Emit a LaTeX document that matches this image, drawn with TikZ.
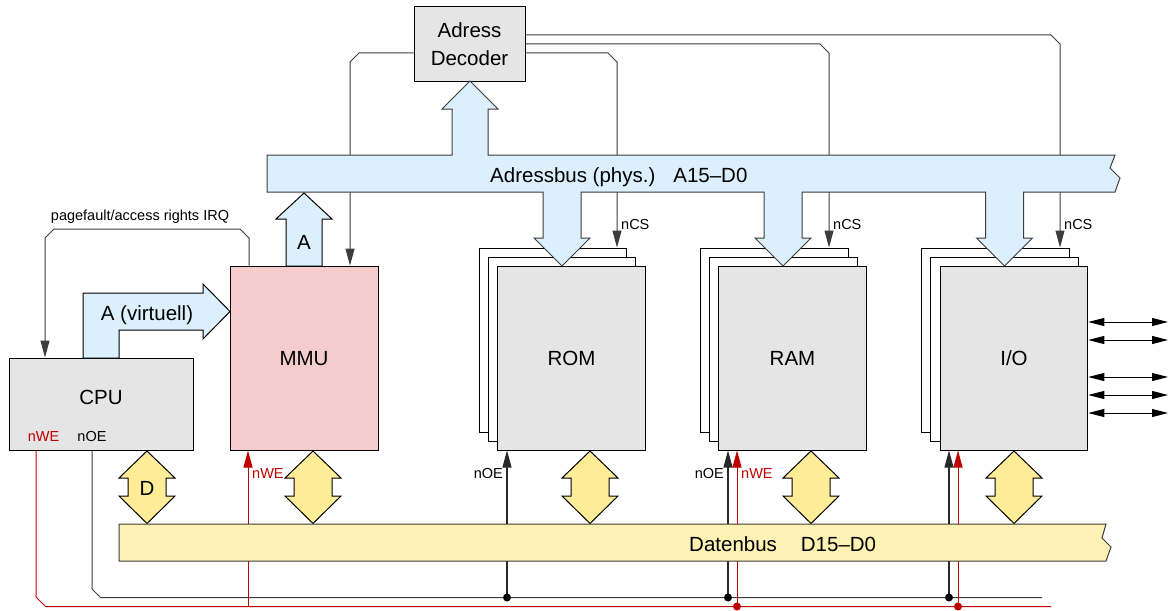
\documentclass[tikz,border=0pt]{standalone}
\usepackage{fontspec}
\setmainfont{Liberation Sans}
\usetikzlibrary{arrows.meta}
\definecolor{busblue}{RGB}{219,239,252}
\definecolor{busyellow}{RGB}{253,242,180}
\definecolor{arryellow}{RGB}{254,236,150}
\definecolor{boxgray}{RGB}{229,229,229}
\definecolor{mmupink}{RGB}{244,204,204}
\definecolor{sigred}{RGB}{192,0,0}
\definecolor{lineg}{RGB}{60,60,60}
\definecolor{oegray}{RGB}{40,40,40}
\tikzset{
  box/.style={draw=black, line width=1pt, fill=boxgray, inner sep=0pt, minimum width=147.5pt, minimum height=184pt},
  backbox/.style={box, fill=white},
  big/.style={font=\fontsize{20.5}{27}\selectfont, inner sep=0pt, text height=14.8pt, text depth=0pt},
  small/.style={font=\fontsize{14.5}{17}\selectfont, inner sep=0pt, text height=10.5pt, text depth=0pt},
  wire/.style={draw=lineg, line width=1pt},
  oewire/.style={draw=oegray, line width=1.05pt},
  redwire/.style={draw=sigred, line width=1pt},
  endarrow/.style={-{Triangle[length=17pt,width=9pt]}},
  botharrow/.style={{Triangle[length=16pt,width=8pt]}-{Triangle[length=16pt,width=8pt]}},
  blockarrow/.style={draw=black, line width=1pt, fill=busblue, line join=miter},
  busshape/.style={draw=lineg, line width=1pt, line join=miter},
  dblarrow/.pic={\filldraw[fill=arryellow, draw=black, line width=1pt, line join=miter]
     (0,0) -- (28,27) -- (19,27) -- (19,45) -- (28,45) -- (0,72.5) -- (-28,45) -- (-19,45) -- (-19,27) -- (-28,27) -- cycle;}
}
\begin{document}
\begin{tikzpicture}[x=1pt,y=-1pt]
\useasboundingbox (0,0) rectangle (1169,610);

% memory / IO stacks
\node[backbox] (rom1) at (553,340) {};
\node[backbox] (rom2) at (562,349) {};
\node[box,big] (rom) at (571.5,358) {ROM};
\node[backbox] (ram1) at (774.5,340) {};
\node[backbox] (ram2) at (783.5,349) {};
\node[box,big] (ram) at (792.5,358) {RAM};
\node[backbox] (io1) at (995.5,340) {};
\node[backbox] (io2) at (1004.5,349) {};
\node[box,big] (io) at (1014,358) {I/O};

% CPU, MMU, decoder
\node[box, minimum width=184pt, minimum height=92pt] (cpu) at (101,404) {};
\node[big] (cputext) at (101,397) {CPU};
\node[box, fill=mmupink, big, minimum width=148pt] (mmu) at (304,358) {MMU};
\node[box, minimum width=111pt, minimum height=74pt, font=\fontsize{20.5}{28}\selectfont, align=center] (dec) at (469.5,44) {Adress\\Decoder};

% chip-select lines from the decoder
\draw[wire,endarrow] (dec.west |- 0,53) -- (359,53) -- (350,62) -- (350,0 |- mmu.north);
\draw[wire,endarrow] (dec.east |- 0,53) -- (608,53) -- (617,62) -- (617,0 |- rom1.north);
\draw[wire,endarrow] (dec.east |- 0,44) -- (820,44) -- (829,53) -- (829,0 |- ram1.north);
\draw[wire,endarrow] (dec.east |- 0,35) -- (1051,35) -- (1060,44) -- (1060,0 |- io1.north);

% pagefault IRQ
\draw[wire,endarrow] (249,0 |- mmu.north) -- (249,238) -- (240,229) -- (54,229) -- (45,238) -- (45,0 |- cpu.north);

% control signals
\coordinate (oeend) at (1042,597.5);
\coordinate (weend) at (1051,606.5);
\coordinate (jmmu) at (248,606.5);
\coordinate (jromoe) at (507,597.5);
\coordinate (jramoe) at (728,597.5);
\coordinate (jramwe) at (737,606.5);
\coordinate (jiooe) at (949,597.5);
\coordinate (jiowe) at (958,606.5);
\draw[wire] (92,0 |- cpu.south) -- (92,589) -- (100.5,597.5) -- (oeend);
\draw[redwire] (36,0 |- cpu.south) -- (36,597) -- (45.5,606.5) -- (weend);
\draw[redwire,endarrow] (jmmu) -- (jmmu |- mmu.south);
\draw[oewire,endarrow] (jromoe) -- (jromoe |- rom.south);
\draw[oewire,endarrow] (jramoe) -- (jramoe |- ram.south);
\draw[redwire,endarrow] (jramwe) -- (jramwe |- ram.south);
\draw[oewire,endarrow] (jiooe) -- (jiooe |- io.south);
\draw[redwire,endarrow] (jiowe) -- (jiowe |- io.south);

% I/O ports
\foreach \yy in {322,340,377,395,413}
  \draw[wire,draw=black,botharrow] (io.east |- 0,\yy) -- (1168,\yy);

% address bus with arrows
\filldraw[busshape, fill=busblue] (267,155) -- (452,155) -- (452,109) -- (442,109) -- (470,81) -- (498,109) -- (488,109) -- (488,155)
  -- (1115,155) -- (1110,168) -- (1120,178) -- (1115,192)
  -- (1023.5,192) -- (1023.5,238) -- (1032.5,238) -- (1004.5,266) -- (976.5,238) -- (985.5,238) -- (985.5,192)
  -- (802,192) -- (802,238) -- (811,238) -- (783,266) -- (755,238) -- (764,238) -- (764,192)
  -- (581,192) -- (581,238) -- (590,238) -- (562,266) -- (534,238) -- (543,238) -- (543,192)
  -- (267,192) -- cycle;
\node[big, anchor=west] (abus) at (490,175) {Adressbus (phys.)\hspace{18pt}A15–D0};

% data bus
\filldraw[busshape, fill=busyellow] (119,524) -- (1106,524) -- (1102,538) -- (1111,547) -- (1106,561) -- (119,561) -- cycle;
\node[big, anchor=west] (dbus) at (689,544) {Datenbus\hspace{24pt}D15–D0};

% block arrows
\filldraw[blockarrow] (286,266) -- (286,219) -- (276,219) -- (304,193) -- (332,219) -- (322,219) -- (322,266) -- cycle;
\node[big] (alabel) at (304,242) {A};
\filldraw[blockarrow] (83,358) -- (83,293) -- (203,293) -- (203,284) -- (230,311.5) -- (203,339) -- (203,330) -- (119,330) -- (119,358) -- cycle;
\node[big] (avlabel) at (147,313) {A (virtuell)};

\pic at (147,451) {dblarrow};
\node[big] (dlabel) at (147,488) {D};
\pic at (313,451) {dblarrow};
\pic at (590,451) {dblarrow};
\pic at (811,451) {dblarrow};
\pic at (1014,451) {dblarrow};

% small labels
\node[small] (pf) at (140,215) {pagefault/access rights IRQ};
\node[small, anchor=west] (cs1) at (621,224) {nCS};
\node[small, anchor=west] (cs2) at (833,224) {nCS};
\node[small, anchor=west] (cs3) at (1064,224) {nCS};
\node[small, text=sigred] (cpuwe) at (43.5,436) {nWE};
\node[small] (cpuoe) at (92,436) {nOE};
\node[small, text=sigred, anchor=west] (mmuwe) at (252,473) {nWE};
\node[small, anchor=east] (romoe) at (503,473) {nOE};
\node[small, anchor=east] (ramoe) at (724,473) {nOE};
\node[small, text=sigred, anchor=west] (ramwe) at (741,473) {nWE};

% junction dots
\fill[black] (jromoe) circle (4pt) (jramoe) circle (4pt) (jiooe) circle (4pt);
\fill[sigred] (jramwe) circle (4pt) (jiowe) circle (4pt);
\end{tikzpicture}
\end{document}
